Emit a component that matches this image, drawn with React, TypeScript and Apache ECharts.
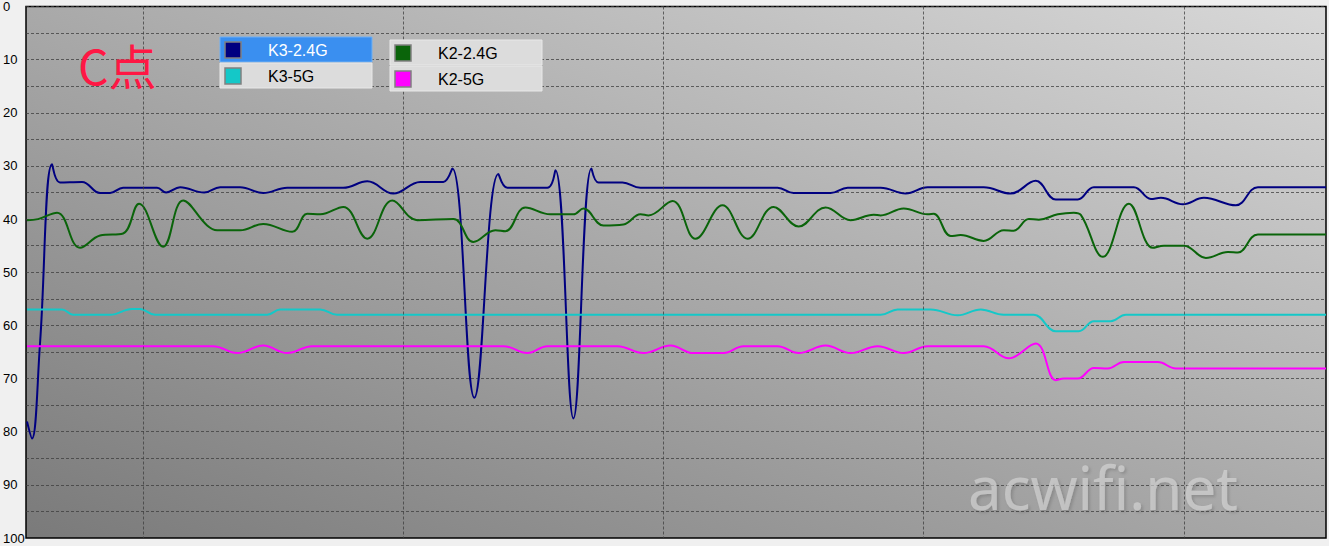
import React, { useEffect, useRef } from "react";
import * as echarts from "echarts";

// x positions are time steps across the plot (0 .. 1299), y values are signal readings (0 top .. 100 bottom)
const k3_24G: [number, number][] = [
  [1, 78.1], [6, 81.3], [14, 63.4], [26, 29.7], [34, 33.1], [56, 33], [74, 35.1], [84, 35.1],
  [97, 34.1], [131, 34.1], [140, 35], [154, 34], [178, 35], [194, 34], [214, 34], [237, 35.1],
  [261, 34.1], [317, 34.1], [341, 32.9], [367, 35.2], [394, 33], [417, 33], [426, 30.5],
  [448, 73.6], [472, 31.5], [481, 34.1], [521, 34.1], [529, 30.8], [547, 77.5], [565, 30.5],
  [572, 33.1], [596, 33.1], [614, 34.1], [751, 34.1], [767, 35.1], [804, 35.1], [821, 34.1],
  [854, 34.1], [879, 35.2], [901, 34], [957, 34], [984, 35.2], [1009, 32.8], [1029, 36.3],
  [1051, 36.3], [1067, 34], [1107, 34], [1124, 36.2], [1134, 36], [1156, 37.2], [1177, 36],
  [1209, 37.4], [1231, 34], [1299, 34],
];

const k2_24G: [number, number][] = [
  [1, 40.2], [12, 40], [31, 38.8], [54, 45.4], [74, 43.1], [97, 42.7], [113, 37.1], [137, 45.2],
  [157, 36.5], [181, 41.2], [191, 42.1], [214, 42.1], [237, 40.9], [266, 42.4], [281, 39],
  [294, 39.1], [317, 37.7], [341, 43.7], [366, 36.5], [391, 40.2], [427, 40], [447, 44.3],
  [469, 42.1], [479, 42.3], [499, 37.8], [524, 39.1], [547, 39.1], [557, 38], [577, 41.2],
  [597, 41], [614, 39.1], [622, 39.3], [646, 36.6], [669, 43.7], [696, 37.4], [721, 43.7],
  [747, 37.7], [772, 41.4], [799, 37.8], [824, 40.2], [847, 39.2], [854, 39.3], [877, 38],
  [901, 39.1], [907, 39], [924, 43.2], [934, 43], [957, 44.1], [977, 42.1], [987, 42.2],
  [1002, 40], [1012, 40.1], [1031, 39.1], [1047, 38.8], [1054, 39.2], [1076, 47.1],
  [1102, 37.1], [1126, 45.4], [1137, 45], [1157, 45], [1179, 47.3], [1201, 46.2], [1211, 46.3],
  [1231, 42.9], [1299, 42.9],
];

const k3_5G: [number, number][] = [
  [1, 57], [36, 57], [47, 58], [84, 58], [106, 56.9], [114, 56.9], [129, 58], [241, 58],
  [254, 57], [294, 57], [311, 58], [854, 58], [871, 57], [904, 57], [931, 58.1], [954, 57],
  [977, 58], [1007, 58], [1029, 61.1], [1052, 61.1], [1067, 59.2], [1084, 59.2], [1099, 58],
  [1299, 58],
];

const k2_5G: [number, number][] = [
  [1, 63.9], [187, 63.9], [211, 65.2], [237, 63.8], [261, 65.2], [286, 63.9], [477, 63.9],
  [501, 65.2], [521, 63.9], [591, 63.9], [617, 65.2], [644, 63.8], [667, 65.2], [697, 65.2],
  [717, 63.9], [751, 63.9], [772, 65.2], [799, 63.8], [824, 65.2], [851, 63.9], [877, 65.2],
  [901, 63.9], [957, 63.9], [982, 66.2], [1009, 63.4], [1029, 70.3], [1037, 70], [1051, 70],
  [1067, 68], [1081, 68.1], [1097, 66.9], [1131, 66.9], [1149, 68.1], [1299, 68.1],
];

const gridTimes = [117, 377, 637, 897, 1157];
const seriesNames = ["K3-2.4G", "K3-5G", "K2-2.4G", "K2-5G"];
const seriesColors = ["#000080", "#14c8c8", "#0a640a", "#ff00ff"];
const titleText = "C点";
const watermarkText = "acwifi.net";

export default function App() {
  const ref = useRef<HTMLDivElement>(null);
  useEffect(() => {
    if (!ref.current) return;
    const chart = echarts.init(ref.current, null, { renderer: "svg" });
    const dataSets = [k3_24G, k3_5G, k2_24G, k2_5G];

    const legendBoxes = [
      { x: 220, y: 37, rows: [0, 1], highlight: 0 },
      { x: 390, y: 40, rows: [2, 3], highlight: -1 },
    ];
    const legendGraphics: any[] = [];
    legendBoxes.forEach((b) => {
      b.rows.forEach((si, r) => {
        const ry = b.y + r * 26;
        const hl = b.highlight === r;
        legendGraphics.push({
          type: "rect",
          shape: { x: b.x, y: ry, width: 152, height: 25 },
          style: { fill: hl ? "#3a8ff0" : "#dcdcdc", stroke: hl ? "#6fb0f5" : "#e8e8e8", lineWidth: 1 },
          z: 10,
        });
        legendGraphics.push({
          type: "rect",
          shape: { x: b.x + 5, y: ry + 5, width: 16, height: 16 },
          style: { fill: seriesColors[si], stroke: "#808080", lineWidth: 1.5 },
          z: 11,
        });
        legendGraphics.push({
          type: "text",
          x: b.x + 48,
          y: ry + 13,
          style: {
            text: seriesNames[si],
            fill: hl ? "#ffffff" : "#000000",
            font: '16px "Liberation Sans", Arial, sans-serif',
            verticalAlign: "middle",
          },
          z: 11,
        });
      });
    });

    chart.setOption({
      animation: false,
      backgroundColor: "#f0f0f0",
      grid: {
        left: 26,
        top: 6,
        right: 3,
        bottom: 8,
        show: true,
        borderColor: "#000",
        borderWidth: 1.5,
        backgroundColor: new echarts.graphic.LinearGradient(0, 1, 1, 0, [
          { offset: 0, color: "#7a7a7a" },
          { offset: 1, color: "#d8d8d8" },
        ]),
      },
      xAxis: {
        type: "value",
        min: 0,
        max: 1299,
        axisLine: { show: false },
        axisTick: { show: false },
        axisLabel: { show: false },
        splitLine: { show: false },
      },
      yAxis: {
        type: "value",
        inverse: true,
        min: 0,
        max: 100,
        interval: 5,
        axisLine: { show: false },
        axisTick: { show: false },
        axisLabel: {
          align: "left",
          margin: 23,
          color: "#000",
          fontSize: 13,
          fontFamily: '"Liberation Sans", Arial, sans-serif',
          formatter: (v: number) => (v % 10 === 0 ? String(v) : ""),
        },
        splitLine: { show: true, lineStyle: { color: "#3c3c3c", type: [3, 2], width: 1, opacity: 0.75 } },
      },
      graphic: [
        {
          type: "text",
          x: 78,
          y: 64,
          style: {
            text: titleText,
            fill: "#ff1744",
            font: '48px "Noto Sans CJK SC", sans-serif',
            verticalAlign: "middle",
          },
          z: 10,
        },
        {
          type: "text",
          x: 968,
          y: 487,
          style: {
            text: watermarkText,
            fill: "rgba(218,218,218,0.6)",
            font: '60px "Noto Sans", sans-serif',
            verticalAlign: "middle",
            textShadowColor: "rgba(0,0,0,0.25)",
            textShadowBlur: 3,
            textShadowOffsetX: 2,
            textShadowOffsetY: 2,
          },
          z: 10,
        },
        ...legendGraphics,
      ],
      series: [
        {
          type: "line",
          data: [],
          z: 1,
          markLine: {
            silent: true,
            symbol: "none",
            label: { show: false },
            lineStyle: { color: "#3c3c3c", type: [3, 2], width: 1, opacity: 0.75 },
            data: gridTimes.map((t) => ({ xAxis: t })),
          },
        },
        ...dataSets.map((d, i) => ({
          name: seriesNames[i],
          type: "line",
          data: d,
          showSymbol: false,
          smooth: 0.4,
          lineStyle: { color: seriesColors[i], width: 2 },
          itemStyle: { color: seriesColors[i] },
          z: 3,
        })),
      ],
    });
    return () => chart.dispose();
  }, []);
  return (
    <div
      ref={ref}
      style={{ position: "absolute", left: 0, top: 0, width: 1329, height: 546 }}
    />
  );
}
